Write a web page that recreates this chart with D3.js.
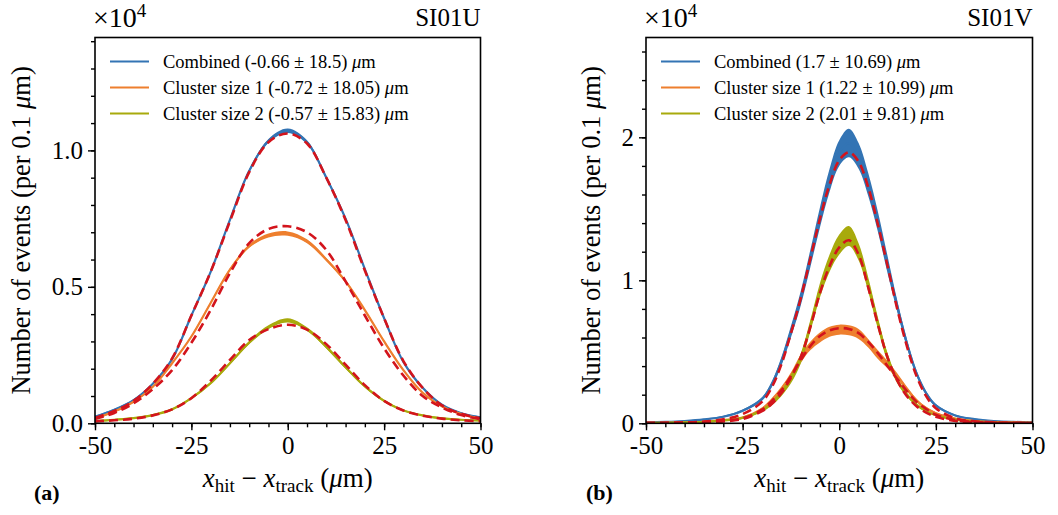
<!DOCTYPE html>
<html><head><meta charset="utf-8">
<script src="https://cdn.jsdelivr.net/npm/d3@7"></script>
<style>
body{margin:0;background:#fff}
svg{display:block}
text{font-family:"Liberation Serif","Times New Roman",serif;fill:#000}
</style>
</head><body>
<svg id="chart" width="1058" height="515"></svg>
<script>
// ---------------- data (values in units of 10^4 events per 0.1 um) ----------------
const xTicks = [-50, -25, 0, 25, 50];
const seriesNames = ["Combined", "Cluster size 1", "Cluster size 2"];
const uLegend = ["(-0.66 ± 18.5)", "(-0.72 ± 18.05)", "(-0.57 ± 15.83)"];
const vLegend = ["(1.7 ± 10.69)", "(1.22 ± 10.99)", "(2.01 ± 9.81)"];
const uYTicks = [0.0, 0.5, 1.0];
const vYTicks = [0, 1, 2];

// SI01U
const xU = [-50,-45,-40,-35,-30,-25,-20,-15,-10,-5,0,5,10,15,20,25,30,35,40,45,50];
const uCombined    = [0.024,0.050,0.085,0.145,0.235,0.395,0.555,0.745,0.925,1.035,1.072,1.030,0.900,0.750,0.565,0.385,0.225,0.130,0.068,0.037,0.022];
const uCombinedFit = [0.020,0.045,0.082,0.145,0.238,0.395,0.555,0.740,0.920,1.030,1.062,1.025,0.900,0.745,0.560,0.385,0.228,0.130,0.066,0.035,0.018];
const uSize1       = [0.018,0.043,0.079,0.134,0.220,0.318,0.441,0.563,0.649,0.688,0.695,0.667,0.600,0.520,0.415,0.300,0.195,0.112,0.062,0.034,0.017];
const uSize1Fit    = [0.016,0.038,0.073,0.125,0.195,0.295,0.415,0.550,0.660,0.712,0.722,0.700,0.635,0.520,0.395,0.275,0.175,0.100,0.058,0.030,0.015];
const uSize2       = [0.008,0.013,0.019,0.030,0.051,0.092,0.147,0.220,0.296,0.352,0.377,0.345,0.280,0.205,0.135,0.082,0.047,0.029,0.018,0.013,0.010];
const uSize2Fit    = [0.007,0.011,0.017,0.029,0.051,0.092,0.156,0.232,0.305,0.345,0.361,0.343,0.290,0.215,0.140,0.082,0.047,0.028,0.017,0.011,0.007];
const uSpread      = [0.003,0.003,0.003,0.003,0.003,0.004,0.004,0.005,0.006,0.007,0.008,0.007,0.006,0.005,0.004,0.004,0.003,0.003,0.003,0.003,0.003];

// SI01V
const xV = [-50,-45,-40,-35,-30,-25,-20,-17.5,-15,-12.5,-10,-7.5,-5,-2.5,0,2.5,5,7.5,10,12.5,15,17.5,20,22.5,25,30,35,40,45,50];
const vCombined       = [0.007,0.010,0.016,0.027,0.046,0.088,0.170,0.27,0.43,0.64,0.87,1.15,1.44,1.70,1.89,1.96,1.87,1.67,1.41,1.11,0.82,0.56,0.35,0.21,0.125,0.055,0.029,0.016,0.010,0.007];
const vCombinedSpread = [0.004,0.004,0.004,0.005,0.006,0.008,0.012,0.02,0.03,0.04,0.05,0.06,0.07,0.08,0.09,0.10,0.09,0.08,0.07,0.06,0.04,0.03,0.02,0.015,0.01,0.006,0.005,0.004,0.004,0.004];
const vCombinedFit    = [0.002,0.003,0.006,0.012,0.028,0.065,0.150,0.25,0.41,0.63,0.87,1.15,1.43,1.67,1.84,1.895,1.83,1.65,1.39,1.10,0.80,0.54,0.33,0.19,0.105,0.035,0.014,0.006,0.003,0.002];
const vSize1          = [0.003,0.004,0.006,0.011,0.022,0.040,0.100,0.16,0.235,0.33,0.45,0.54,0.60,0.64,0.655,0.65,0.625,0.56,0.48,0.41,0.33,0.24,0.16,0.105,0.07,0.033,0.016,0.009,0.006,0.004];
const vSize1Spread    = [0.003,0.003,0.003,0.003,0.004,0.006,0.01,0.015,0.02,0.025,0.03,0.03,0.035,0.035,0.035,0.035,0.035,0.03,0.03,0.025,0.02,0.015,0.012,0.01,0.008,0.005,0.004,0.003,0.003,0.003];
const vSize1Fit       = [0.001,0.002,0.004,0.008,0.017,0.035,0.095,0.155,0.23,0.33,0.44,0.54,0.61,0.65,0.665,0.66,0.63,0.57,0.49,0.40,0.31,0.225,0.15,0.10,0.06,0.022,0.009,0.004,0.002,0.001];
const vSize2          = [0.003,0.004,0.006,0.010,0.020,0.038,0.090,0.14,0.21,0.31,0.45,0.68,0.93,1.12,1.25,1.31,1.20,0.97,0.70,0.46,0.30,0.20,0.13,0.085,0.056,0.026,0.013,0.007,0.004,0.003];
const vSize2Spread    = [0.003,0.003,0.003,0.003,0.004,0.006,0.01,0.015,0.02,0.03,0.035,0.04,0.05,0.06,0.07,0.07,0.06,0.05,0.04,0.03,0.02,0.015,0.01,0.008,0.006,0.004,0.003,0.003,0.003,0.003];
const vSize2Fit       = [0.001,0.002,0.003,0.006,0.013,0.030,0.085,0.135,0.21,0.32,0.46,0.67,0.91,1.10,1.23,1.28,1.18,0.95,0.69,0.46,0.30,0.19,0.12,0.075,0.045,0.017,0.007,0.003,0.002,0.001];

// ---------------- styles ----------------
const colors = ["#3374b4", "#ee7f2e", "#a8aa0c"];
const fitColor = "#d3141c";

const svg = d3.select("#chart");

function drawPanel(p) {
  const x = d3.scaleLinear().domain([-50, 50]).range([p.x0, p.x1]);
  const y = d3.scaleLinear().domain([0, p.ymax]).range([p.y1, p.y0]);
  const g = svg.append("g");
  const clipId = "clip" + p.id;
  svg.append("defs").append("clipPath").attr("id", clipId)
    .append("rect").attr("x", p.x0).attr("y", p.y0).attr("width", p.x1 - p.x0).attr("height", p.y1 - p.y0);
  const plot = g.append("g").attr("clip-path", `url(#${clipId})`);

  const line = d3.line().x(d => x(d[0])).y(d => y(d[1])).curve(d3.curveCatmullRom.alpha(0.5));
  const area = d3.area().x(d => x(d[0])).y0(d => y(d[1] - d[2])).y1(d => y(d[1] + d[2])).curve(d3.curveCatmullRom.alpha(0.5));

  p.series.forEach((s, i) => {
    const pts = p.xs.map((xv, k) => [xv, s.data[k], s.spread[k]]);
    plot.append("path").attr("d", area(pts)).attr("fill", colors[i]).attr("stroke", "none");
    plot.append("path").attr("d", line(pts)).attr("fill", "none")
      .attr("stroke", colors[i]).attr("stroke-width", 2.2).attr("stroke-linejoin", "round");
  });
  p.series.forEach((s) => {
    const pts = p.xs.map((xv, k) => [xv, s.fit[k]]);
    plot.append("path").attr("d", line(pts)).attr("fill", "none")
      .attr("stroke", fitColor).attr("stroke-width", 2.6).attr("stroke-dasharray", "9,5");
  });

  // frame
  g.append("rect").attr("x", p.x0).attr("y", p.y0).attr("width", p.x1 - p.x0).attr("height", p.y1 - p.y0)
    .attr("fill", "none").attr("stroke", "#000").attr("stroke-width", 1.6);

  // x axis
  const xMinor = d3.range(-50, 51, 5);
  const xa = g.append("g").attr("transform", `translate(0,${p.y1})`)
    .call(d3.axisBottom(x).tickValues(xTicks).tickSize(7).tickPadding(6).tickFormat(d => String(d)));
  const xm = g.append("g").attr("transform", `translate(0,${p.y1})`)
    .call(d3.axisBottom(x).tickValues(xMinor).tickSize(4).tickFormat(""));
  // y axis
  const ya = g.append("g").attr("transform", `translate(${p.x0},0)`)
    .call(d3.axisLeft(y).tickValues(p.yTicks).tickSize(7).tickPadding(5).tickFormat(p.yFmt));
  const ym = g.append("g").attr("transform", `translate(${p.x0},0)`)
    .call(d3.axisLeft(y).tickValues(p.yMinor).tickSize(4).tickFormat(""));
  [xa, xm, ya, ym].forEach(a => {
    a.select(".domain").remove();
    a.selectAll(".tick line").attr("stroke", "#000").attr("stroke-width", 1.4);
    a.selectAll("text").style("font-family", '"Liberation Serif", serif').style("font-size", "25px").attr("fill", "#000");
  });

  // offset text and title
  const off = g.append("text").attr("x", p.x0 - 2).attr("y", 27).style("font-size", "28px");
  off.append("tspan").text("×10");
  off.append("tspan").attr("dy", -10).style("font-size", "19px").text("4");
  g.append("text").attr("x", p.x1).attr("y", 26).attr("text-anchor", "end").style("font-size", "25px").text(p.title);

  // legend
  p.legend.forEach((lbl, i) => {
    const ly = p.y0 + 24 + i * 26;
    g.append("line").attr("x1", p.x0 + 15).attr("x2", p.x0 + 54).attr("y1", ly).attr("y2", ly)
      .attr("stroke", colors[i]).attr("stroke-width", 2);
    const t = g.append("text").attr("x", p.x0 + 68).attr("y", ly + 6).style("font-size", "18.5px");
    t.append("tspan").text(seriesNames[i] + " " + lbl + " ");
    t.append("tspan").style("font-style", "italic").text("μ");
    t.append("tspan").text("m");
  });

  // x label
  const cx = (p.x0 + p.x1) / 2;
  const xl = g.append("text").attr("x", cx).attr("y", 487).attr("text-anchor", "middle").style("font-size", "27px");
  xl.append("tspan").style("font-style", "italic").text("x");
  xl.append("tspan").attr("dy", 5).style("font-size", "19px").text("hit");
  xl.append("tspan").attr("dy", -5).text(" − ");
  xl.append("tspan").style("font-style", "italic").text("x");
  xl.append("tspan").attr("dy", 5).style("font-size", "19px").text("track");
  xl.append("tspan").attr("dy", -5).text(" (");
  xl.append("tspan").style("font-style", "italic").text("μ");
  xl.append("tspan").text("m)");

  // y label
  const cy = (p.y0 + p.y1) / 2;
  const yl = g.append("text").attr("transform", `translate(${p.ylx},${cy}) rotate(-90)`)
    .attr("text-anchor", "middle").style("font-size", "26.5px");
  yl.append("tspan").text("Number of events (per 0.1 ");
  yl.append("tspan").style("font-style", "italic").text("μ");
  yl.append("tspan").text("m)");

  // panel tag
  g.append("text").attr("x", p.tagX).attr("y", 500).style("font-size", "22px").style("font-weight", "bold").text(p.tag);
}

drawPanel({
  id: "U", x0: 95, x1: 480.5, y0: 37.5, y1: 423.3, ymax: 1.4136,
  xs: xU, yTicks: uYTicks, yMinor: d3.range(0, 15).map(d => d / 10), yFmt: d3.format(".1f"),
  series: [
    {data: uCombined, fit: uCombinedFit, spread: uSpread},
    {data: uSize1, fit: uSize1Fit, spread: uSpread},
    {data: uSize2, fit: uSize2Fit, spread: uSpread}
  ],
  legend: uLegend, title: "SI01U", ylx: 30, tag: "(a)", tagX: 34
});
drawPanel({
  id: "V", x0: 646, x1: 1032.5, y0: 37.5, y1: 423.3, ymax: 2.698,
  xs: xV, yTicks: vYTicks, yMinor: d3.range(0, 14).map(d => d / 5), yFmt: d3.format("d"),
  series: [
    {data: vCombined, fit: vCombinedFit, spread: vCombinedSpread},
    {data: vSize1, fit: vSize1Fit, spread: vSize1Spread},
    {data: vSize2, fit: vSize2Fit, spread: vSize2Spread}
  ],
  legend: vLegend, title: "SI01V", ylx: 600, tag: "(b)", tagX: 586
});
</script>
</body></html>
